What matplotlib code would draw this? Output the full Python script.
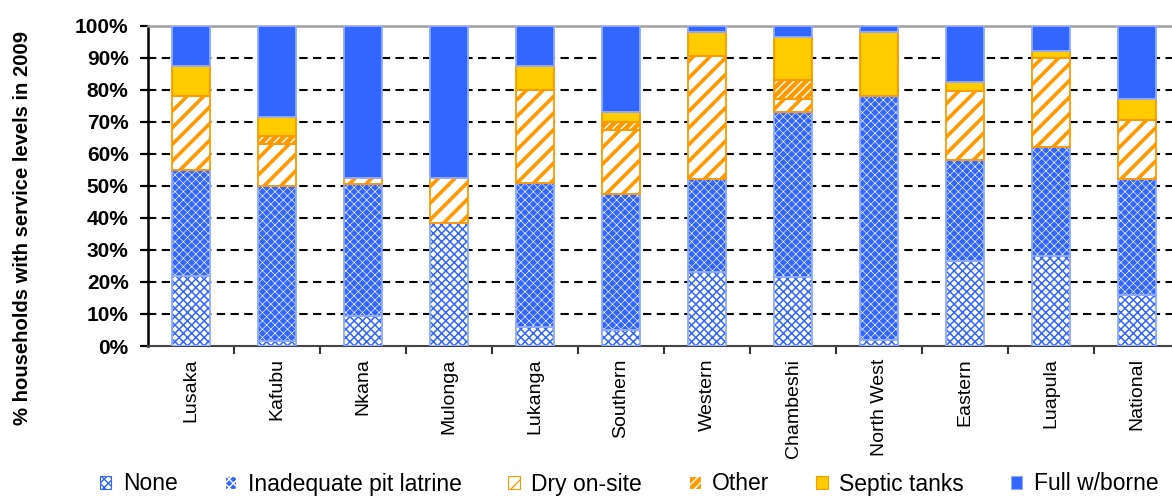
import numpy as np
import matplotlib
matplotlib.use("Agg")
import matplotlib.pyplot as plt
from matplotlib.patches import Patch
from matplotlib.ticker import PercentFormatter, MultipleLocator, FixedLocator

plt.rcParams['font.family'] = ['Liberation Sans', 'DejaVu Sans']

categories = ["Lusaka", "Kafubu", "Nkana", "Mulonga", "Lukanga", "Southern",
              "Western", "Chambeshi", "North West", "Eastern", "Luapula", "National"]
none_pct = [22, 1.5, 9.5, 38.5, 6, 5, 23, 21.5, 2, 26.5, 28, 16]
pit_latrine = [33, 48.5, 41, 0, 45, 42.5, 29, 51.5, 76, 31.5, 34, 36]
dry_onsite = [23, 13, 2, 14, 29, 20, 38.5, 4, 0, 21.5, 28, 18.5]
other = [0, 2.5, 0, 0, 0, 2.5, 0, 6, 0, 0, 0, 0]
septic = [9.5, 6, 0, 0, 7.5, 3, 7.5, 13.5, 20, 3, 2, 6.5]
full_borne = [12.5, 28.5, 47.5, 47.5, 12.5, 27, 2, 3.5, 2, 17.5, 8, 23]

series_labels = ["None", "Inadequate pit latrine", "Dry on-site", "Other",
                 "Septic tanks", "Full w/borne"]

BLUE = "#3366FF"
BLUE_EDGE = "#8FAAFF"
ORANGE = "#FF9900"
YELLOW = "#FFCC00"

# face, hatch colour, hatch, hatch linewidth, outline colour
styles = [
    ("white", BLUE, "xxxx", 1.1, BLUE_EDGE),
    (BLUE, "white", "xxxx", 0.45, BLUE_EDGE),
    ("white", ORANGE, "//", 2.6, ORANGE),
    (ORANGE, "white", "////", 1.0, ORANGE),
    (YELLOW, YELLOW, None, 1.0, ORANGE),
    (BLUE, BLUE, None, 1.0, BLUE_EDGE),
]

series = [none_pct, pit_latrine, dry_onsite, other, septic, full_borne]

W, H = 1172, 497
fig = plt.figure(figsize=(W / 100, H / 100), dpi=100)
ax_left, ax_bottom, ax_top = 148, 346, 25.7
n = len(categories)
ax = fig.add_axes([ax_left / W, 1 - ax_bottom / H, n * 86.0 / W, (ax_bottom - ax_top) / H])

x = np.arange(n)
width = 0.44
bottom = np.zeros(n)


def set_hlw(p, lw):
    if hasattr(p, "set_hatch_linewidth"):
        p.set_hatch_linewidth(lw)


for vals, (fc, hc, hatch, hlw, oc) in zip(series, styles):
    vals = np.asarray(vals, dtype=float)
    idx = vals > 0
    with plt.rc_context({"hatch.linewidth": hlw}):
        bars = ax.bar(x[idx], vals[idx], width, bottom=bottom[idx], facecolor=fc,
                      edgecolor=hc, hatch=hatch, linewidth=0, zorder=3)
    for p in bars:
        set_hlw(p, hlw)
    ax.bar(x[idx], vals[idx], width, bottom=bottom[idx], fill=False,
           edgecolor=oc, linewidth=1.3, zorder=4)
    bottom += vals

ax.set_xlim(-0.5, n - 0.5)
ax.set_ylim(0, 100)

# dashed gridlines behind the bars
ax.yaxis.set_major_locator(MultipleLocator(10))
ax.yaxis.set_major_formatter(PercentFormatter(decimals=0))
for v in range(10, 100, 10):
    ax.axhline(v, color="black", linewidth=1.5, linestyle=(0, (4, 2.6)), zorder=1)

ax.set_xticks(x)
ax.set_xticklabels(categories, rotation=90, fontsize=14)
ax.tick_params(axis="x", which="major", length=0, pad=9)
ax.xaxis.set_minor_locator(FixedLocator(np.arange(0.5, n - 0.5, 1)))
ax.tick_params(axis="x", which="minor", length=6, width=1.5, color="#333333", direction="out")
ax.tick_params(axis="y", length=6, width=1.6, color="black", direction="out", pad=8)
for lab in ax.get_yticklabels():
    lab.set_fontweight("bold")
    lab.set_fontsize(15)

ax.spines["left"].set_color("black")
ax.spines["left"].set_linewidth(1.8)
ax.spines["bottom"].set_color("#444444")
ax.spines["bottom"].set_linewidth(1.5)
ax.spines["top"].set_color("#A0A0A0")
ax.spines["top"].set_linewidth(1.8)
ax.spines["right"].set_visible(False)

fig.text(23 / W, 1 - 228 / H, "% households with service levels in 2009",
         rotation=90, ha="center", va="center", fontsize=14.6, fontweight="bold")

handles = []
for (fc, hc, hatch, hlw, oc) in styles:
    with plt.rc_context({"hatch.linewidth": min(hlw, 1.2)}):
        h = Patch(facecolor=fc, edgecolor=hc if hatch else oc, hatch=hatch,
                  linewidth=0.8)
    set_hlw(h, min(hlw, 1.2))
    handles.append(h)

fig.legend(handles, series_labels, loc="center left",
           bbox_to_anchor=(100 / W, 1 - 484 / H), ncol=6, frameon=False,
           fontsize=16.5, handlelength=0.5, handleheight=0.5, handletextpad=0.5,
           columnspacing=2.05, borderpad=0, borderaxespad=0)

fig.savefig("out.png", dpi=100)
